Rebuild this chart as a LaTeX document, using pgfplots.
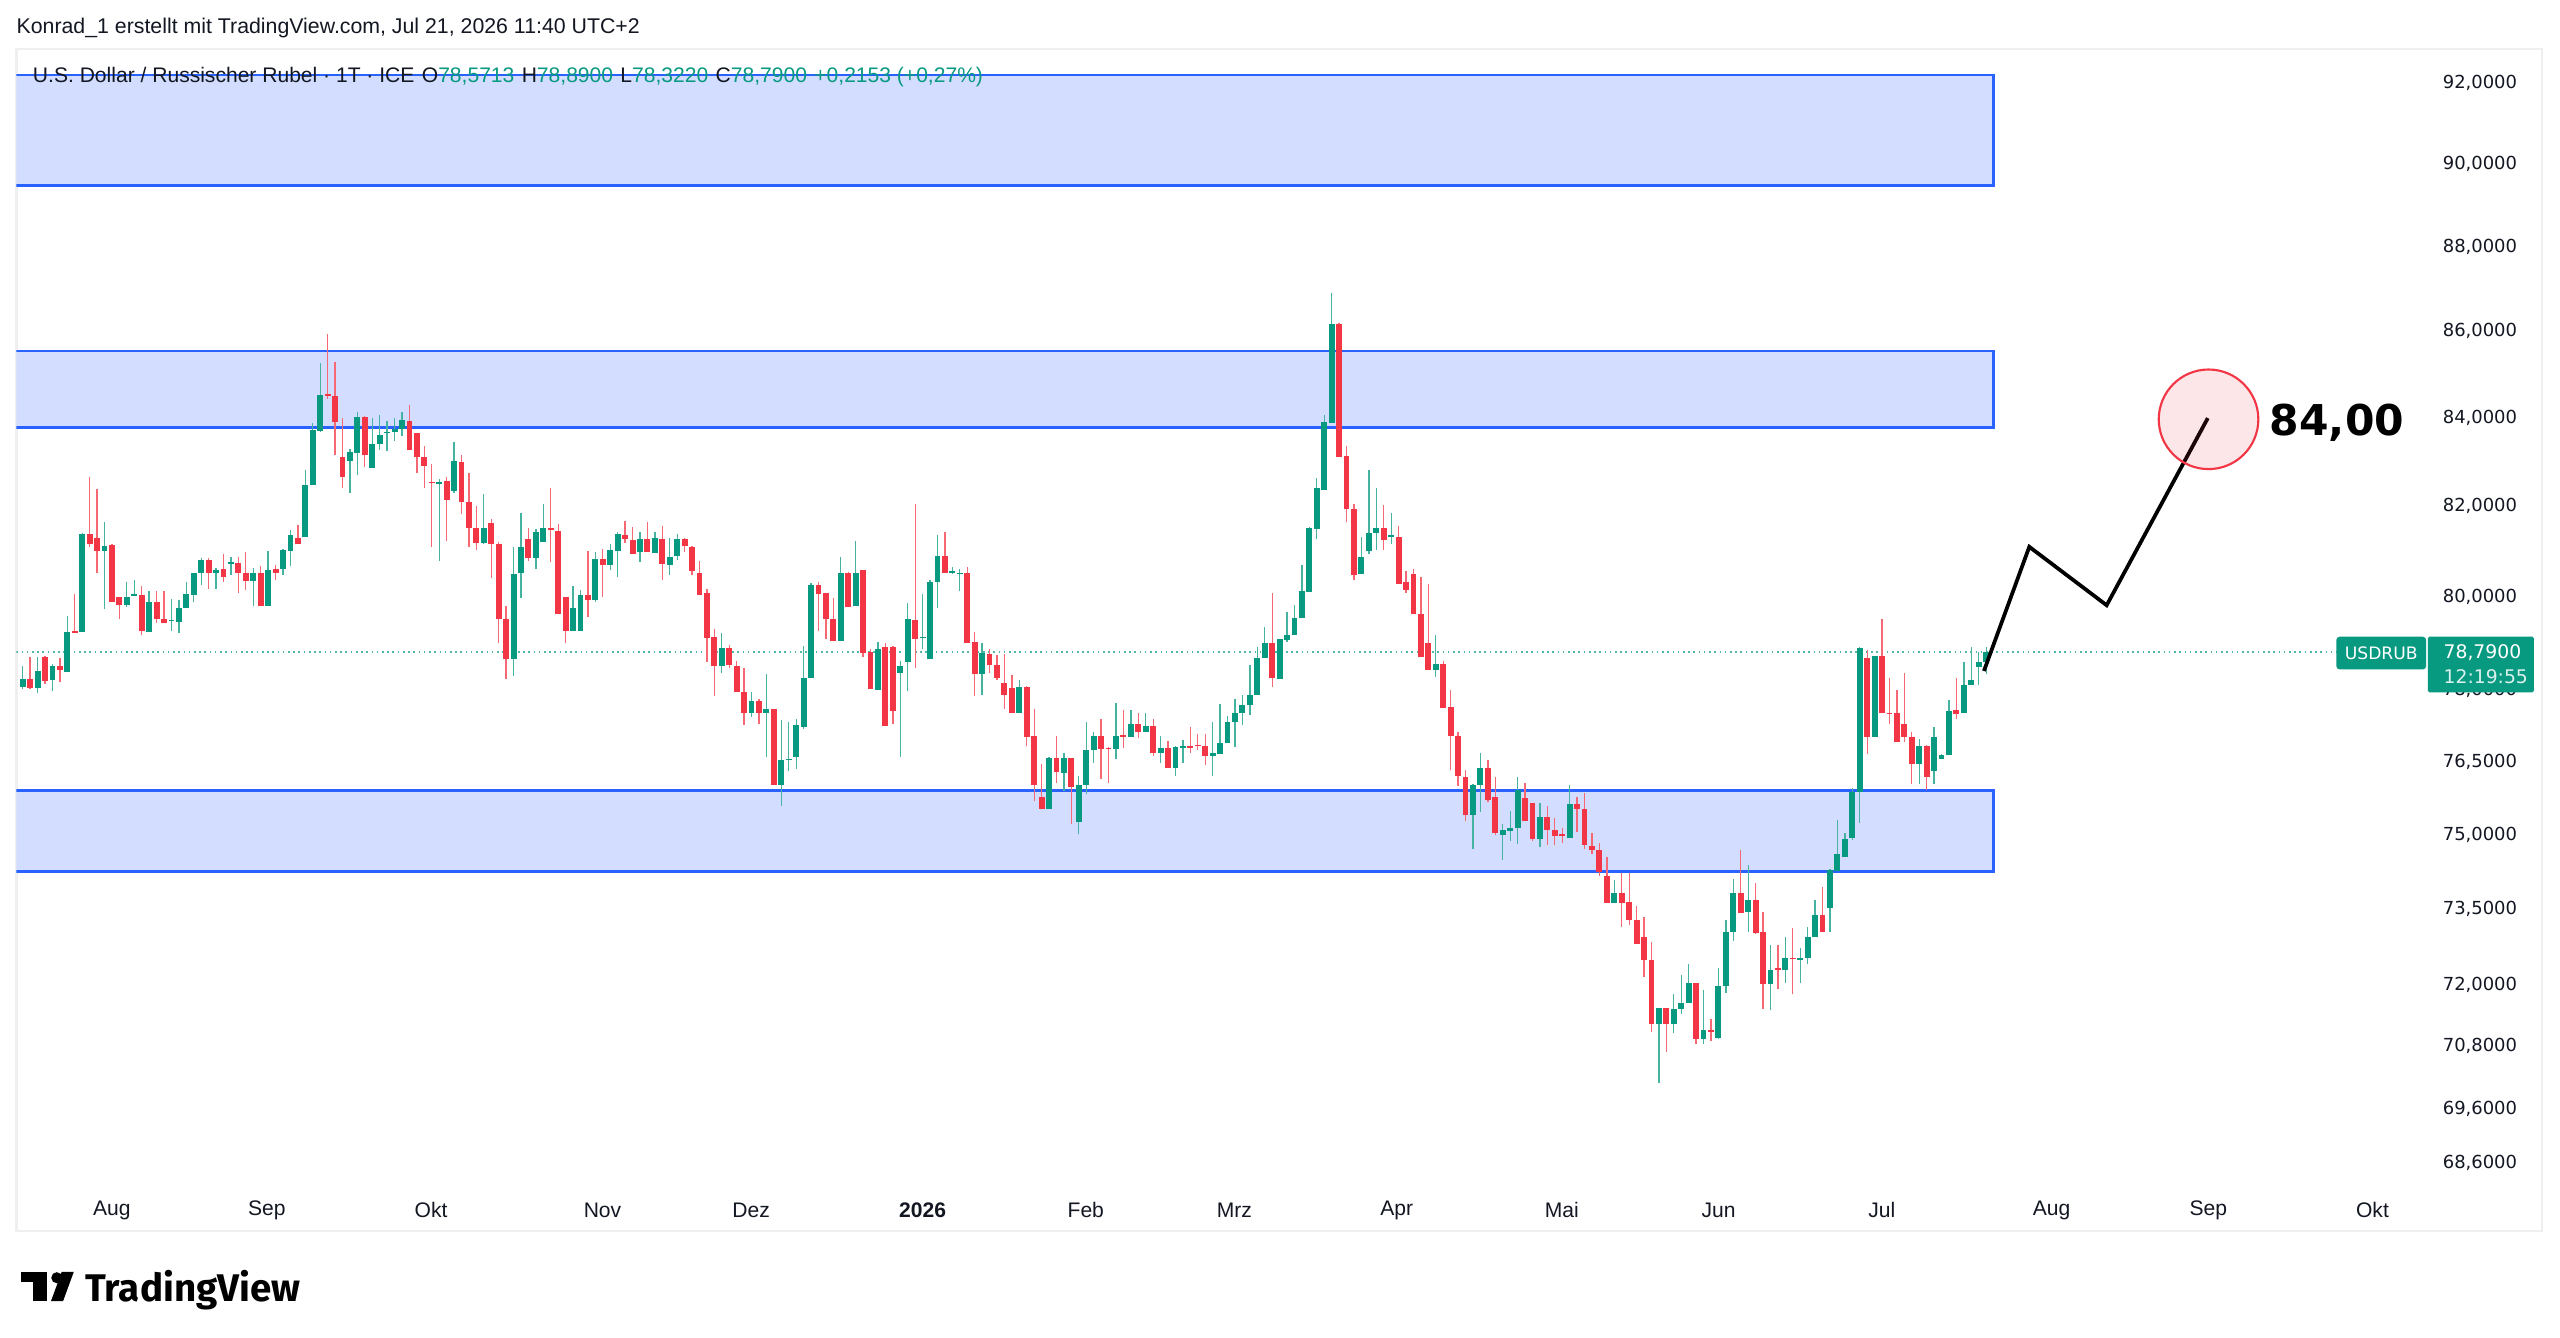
\documentclass[border=0pt]{standalone}
\usepackage{fontspec}
\setmainfont{Liberation Sans}
\newfontfamily\dejavu{DejaVu Sans}
\newfontfamily\fira{Fira Sans}
\usepackage{pgfplots}
\usepackage{pgfplotstable}
\pgfplotsset{compat=1.18}
\definecolor{tvgreen}{HTML}{089981}
\definecolor{tvred}{HTML}{F23645}
\definecolor{boxfill}{HTML}{D2DDFF}
\definecolor{boxline}{HTML}{2962FF}
\definecolor{txt}{HTML}{131722}
\definecolor{framec}{HTML}{EFEFEF}

\pgfplotstableread{
k o h l c
1 78.03 78.49 77.99 78.21
2 78.22 78.67 77.99 78.01
3 78.02 78.67 77.90 78.38
4 78.67 78.69 78.10 78.16
5 78.19 78.52 77.96 78.49
6 78.49 78.65 78.15 78.40
7 78.36 79.55 78.36 79.21
8 79.22 80.02 79.20 79.20
9 79.21 81.36 79.21 81.34
10 81.34 82.61 81.05 81.11
11 81.25 82.35 80.48 80.97
12 80.97 81.60 79.71 81.08
13 81.10 81.12 79.86 79.86
14 79.98 79.98 79.48 79.80
15 79.80 80.28 79.75 79.98
16 79.99 80.33 79.99 80.00
17 80.00 80.20 79.15 79.23
18 79.21 80.09 79.21 79.87
19 79.87 80.09 79.41 79.48
20 79.48 80.09 79.41 79.41
21 79.44 79.93 79.23 79.45
22 79.43 79.91 79.19 79.73
23 79.73 80.28 79.73 80.02
24 80.00 80.49 79.87 80.49
25 80.48 80.81 80.22 80.77
26 80.77 80.81 80.14 80.49
27 80.48 80.60 80.14 80.55
28 80.57 80.91 80.29 80.40
29 80.69 80.84 80.44 80.71
30 80.70 80.84 80.04 80.48
31 80.48 80.94 80.11 80.31
32 80.31 80.60 79.78 80.48
33 80.48 80.64 79.77 79.77
34 79.77 80.96 79.77 80.55
35 80.57 80.65 80.33 80.49
36 80.57 81.01 80.44 80.99
37 80.97 81.43 80.64 81.31
38 81.25 81.54 81.11 81.11
39 81.27 82.77 81.27 82.44
40 82.44 83.83 82.44 83.67
41 83.66 85.21 83.64 84.47
42 84.47 85.90 84.38 84.46
43 84.46 85.24 83.10 83.85
44 83.06 83.96 82.36 82.61
45 82.98 83.25 82.25 83.17
46 83.16 84.09 82.65 83.98
47 83.98 84.00 82.83 83.10
48 82.82 83.96 82.82 83.36
49 83.36 84.02 83.23 83.57
50 83.61 83.88 83.19 83.63
51 83.64 83.95 83.43 83.71
52 83.71 84.09 83.55 83.91
53 83.89 84.24 83.22 83.22
54 83.62 83.62 82.70 83.06
55 83.06 83.31 82.36 82.87
56 82.48 82.91 81.05 82.47
57 82.45 82.57 80.74 82.51
58 82.53 82.62 81.18 82.10
59 82.31 83.41 82.26 82.98
60 82.96 83.11 81.79 82.05
61 82.05 82.70 81.06 81.48
62 81.48 81.97 81.00 81.14
63 81.14 82.23 81.12 81.48
64 81.59 81.68 80.37 81.12
65 81.13 81.16 78.97 79.48
66 79.48 79.77 78.22 78.63
67 78.63 81.05 78.28 80.47
68 80.48 81.81 79.95 81.05
69 81.23 81.47 80.75 80.81
70 80.81 81.45 80.57 81.38
71 81.17 82.01 81.17 81.48
72 81.47 82.36 80.73 81.42
73 81.40 81.57 79.60 79.60
74 79.97 79.97 78.97 79.24
75 79.24 80.19 79.24 79.73
76 79.24 80.11 79.24 80.00
77 80.00 80.96 79.54 79.91
78 79.91 80.94 79.87 80.80
79 80.79 81.01 79.98 80.66
80 80.66 81.11 80.55 80.99
81 80.96 81.39 80.40 81.34
82 81.32 81.62 81.14 81.23
83 81.22 81.49 80.91 80.91
84 80.94 81.38 80.73 81.23
85 81.23 81.60 80.94 80.94
86 80.92 81.38 80.92 81.25
87 81.23 81.51 80.33 80.69
88 80.66 81.25 80.44 80.84
89 80.85 81.35 80.76 81.24
90 81.24 81.26 80.94 81.07
91 81.05 81.07 80.45 80.53
92 80.49 80.75 80.00 80.01
93 80.05 80.14 78.57 79.09
94 79.10 79.27 77.85 78.48
95 78.48 79.18 78.35 78.86
96 78.86 78.95 78.43 78.50
97 78.48 78.59 77.93 77.93
98 77.94 78.45 77.24 77.48
99 77.48 77.94 77.41 77.73
100 77.73 77.78 77.26 77.48
101 77.48 78.31 76.56 77.58
102 77.58 77.58 75.98 75.98
103 75.98 77.34 75.55 76.50
104 76.49 77.29 76.28 76.53
105 76.56 77.36 76.31 77.22
106 77.19 78.91 77.15 78.24
107 78.24 80.27 78.24 80.23
108 80.23 80.29 79.23 80.03
109 80.05 80.05 79.05 79.49
110 79.49 79.94 79.03 79.03
111 79.03 80.83 79.03 80.49
112 80.48 80.51 79.75 79.75
113 79.78 81.18 79.78 80.49
114 80.54 80.54 78.68 78.77
115 78.78 78.84 77.99 77.99
116 77.98 79.00 77.98 78.84
117 78.90 78.98 77.21 77.21
118 78.90 78.91 77.27 77.54
119 78.33 78.60 76.56 78.48
120 78.57 79.83 77.96 79.49
121 79.47 82.02 78.45 79.07
122 79.08 80.03 78.85 79.09
123 78.63 80.34 78.63 80.29
124 80.29 81.33 79.74 80.85
125 80.85 81.38 80.48 80.48
126 80.49 80.62 80.47 80.51
127 80.46 80.58 80.10 80.48
128 80.48 80.62 78.98 78.98
129 79.00 79.22 77.84 78.31
130 78.31 78.98 77.87 78.77
131 78.75 78.84 78.34 78.50
132 78.50 78.73 78.17 78.24
133 78.14 78.75 77.56 77.87
134 78.00 78.30 77.50 77.50
135 77.49 78.17 77.49 78.05
136 78.05 78.06 76.79 76.99
137 77.00 77.58 75.65 75.98
138 75.74 76.43 75.48 75.50
139 75.50 76.56 75.50 76.54
140 76.54 77.00 76.03 76.25
141 76.24 76.65 75.86 76.54
142 76.54 76.54 75.18 75.94
143 75.22 76.16 74.97 75.98
144 75.98 77.29 75.81 76.70
145 76.70 77.08 76.44 77.00
146 77.00 77.36 76.11 76.73
147 76.74 76.77 76.03 76.73
148 76.73 77.69 76.51 77.00
149 77.03 77.55 76.74 76.99
150 76.99 77.55 76.99 77.26
151 77.26 77.48 76.97 77.09
152 77.09 77.50 77.09 77.21
153 77.21 77.36 76.58 76.64
154 76.65 77.00 76.45 76.74
155 76.74 76.90 76.33 76.33
156 76.33 76.78 76.16 76.77
157 76.76 76.92 76.44 76.77
158 76.77 77.20 76.66 76.75
159 76.82 77.04 76.72 76.79
160 76.80 77.06 76.39 76.59
161 76.59 77.29 76.16 76.65
162 76.63 77.66 76.63 76.86
163 76.86 77.43 76.86 77.30
164 77.31 77.78 76.77 77.48
165 77.48 77.86 77.22 77.65
166 77.65 78.50 77.44 77.86
167 77.86 78.88 77.86 78.66
168 78.66 79.33 78.66 78.97
169 78.99 80.05 78.03 78.23
170 78.21 79.07 78.21 79.06
171 79.04 79.64 79.00 79.15
172 79.15 79.79 79.15 79.51
173 79.51 80.66 79.51 80.09
174 80.07 81.50 80.07 81.48
175 81.46 82.59 81.23 82.36
176 82.32 84.02 82.32 83.87
177 83.84 86.86 83.84 86.12
178 86.12 86.15 83.07 83.07
179 83.08 83.32 81.61 81.89
180 81.89 82.02 80.33 80.45
181 80.46 81.27 80.46 80.83
182 80.96 82.77 80.89 81.37
183 81.36 82.37 80.99 81.48
184 81.48 81.98 80.99 81.20
185 81.28 81.80 81.13 81.30
186 81.27 81.53 80.25 80.25
187 80.28 80.53 80.05 80.11
188 80.47 80.57 79.60 79.60
189 79.60 80.40 78.67 78.67
190 78.98 80.25 78.39 78.39
191 78.39 79.15 78.26 78.53
192 78.53 78.60 77.60 77.60
193 77.62 77.98 76.30 77.01
194 77.01 77.08 75.96 76.16
195 76.14 76.30 75.24 75.37
196 75.37 76.00 74.67 75.99
197 75.99 76.64 75.43 76.34
198 76.34 76.49 75.63 75.67
199 75.74 76.15 74.95 74.99
200 74.95 75.18 74.44 75.05
201 75.04 75.45 74.83 75.09
202 75.10 76.15 74.78 75.88
203 75.71 76.02 75.24 75.24
204 75.62 75.62 74.83 74.87
205 74.87 75.62 74.70 75.32
206 75.32 75.55 74.75 75.05
207 75.05 75.30 74.75 74.93
208 74.97 75.09 74.79 74.94
209 74.89 75.99 74.89 75.59
210 75.59 75.74 75.01 75.49
211 75.49 75.82 74.67 74.75
212 74.74 74.99 74.56 74.64
213 74.65 74.80 74.12 74.20
214 74.12 74.51 73.59 73.59
215 73.59 74.05 73.59 73.79
216 73.79 74.19 73.10 73.59
217 73.60 74.19 73.13 73.25
218 73.24 73.52 72.77 72.77
219 72.89 73.30 72.12 72.44
220 72.44 72.81 71.03 71.21
221 71.21 71.50 70.07 71.50
222 71.50 71.50 70.65 71.20
223 71.20 71.79 71.02 71.49
224 71.49 72.15 71.39 71.60
225 71.60 72.36 71.60 72.00
226 72.00 72.00 70.81 70.90
227 70.90 71.86 70.81 71.09
228 71.09 71.30 70.87 71.05
229 70.93 72.28 70.91 71.94
230 71.94 73.23 71.81 73.00
231 73.00 74.07 72.83 73.78
232 73.78 74.65 73.39 73.39
233 73.41 74.34 73.01 73.63
234 73.63 73.99 72.96 72.98
235 72.99 73.40 71.49 71.97
236 71.97 72.75 71.47 72.26
237 72.26 72.75 71.87 72.25
238 72.25 72.90 72.00 72.49
239 72.48 73.08 71.77 72.46
240 72.45 72.68 71.99 72.49
241 72.49 73.10 72.36 72.90
242 72.90 73.64 72.89 73.33
243 73.33 73.91 72.99 72.99
244 73.48 74.27 73.01 74.24
245 74.22 75.27 74.22 74.56
246 74.50 74.99 74.50 74.88
247 74.90 75.92 74.85 75.83
248 75.83 78.90 75.20 78.87
249 78.66 78.83 76.63 76.98
250 76.98 78.69 76.98 78.69
251 78.69 79.49 77.48 77.48
252 77.49 78.24 77.26 77.47
253 77.48 77.97 76.87 76.87
254 77.27 78.35 76.87 76.98
255 76.99 77.09 76.01 76.43
256 76.43 76.94 76.01 76.78
257 76.80 76.82 75.87 76.14
258 76.27 77.18 76.01 76.99
259 76.53 76.63 76.51 76.61
260 76.60 77.77 76.60 77.53
261 77.55 78.24 77.35 77.46
262 77.48 78.58 77.48 78.08
263 78.08 78.88 78.08 78.19
264 78.47 78.78 78.08 78.56
265 78.5713 78.89 78.322 78.79
}\candles

\begin{document}
\begin{tikzpicture}
\path[fill=white] (0pt,0pt) rectangle (1568pt,-819.5pt);
\draw[framec, line width=1.5pt] (10pt,-30pt) rectangle (1557pt,-754pt);
\begin{axis}[
  at={(10pt,-727pt)}, anchor=south west,
  width=1468pt, height=697pt, scale only axis,
  xmin=0.144, xmax=322.4,
  ymode=log, ymin=68.11, ymax=92.82,
  axis line style={draw=none},
  major tick length=0pt, minor tick length=0pt,
  xtick={12.99,33.84,55.91,78.96,98.94,121.99,143.94,163.92,185.76,207.94,229.01,250.97,273.80,294.87,316.94},
  xticklabels={Aug,Sep,Okt,Nov,Dez,\textbf{2026},Feb,Mrz,Apr,Mai,Jun,Jul,Aug,Sep,Okt},
  xticklabel style={font=\fontsize{12.9}{15}\selectfont, text=txt, anchor=center, yshift=-14.5pt},
  ytick={68.6,69.6,70.8,72,73.5,75,76.5,78,80,82,84,86,88,90,92},
  yticklabels={{68,6000},{69,6000},{70,8000},{72,0000},{73,5000},{75,0000},{76,5000},{78,0000},{80,0000},{82,0000},{84,0000},{86,0000},{88,0000},{90,0000},{92,0000}},
  yticklabel pos=right,
  yticklabel style={font=\dejavu\fontsize{11}{13}\selectfont, text=txt, anchor=west, xshift=14.7pt, yshift=-1pt},
]
% zones
\addplot[fill=boxfill, draw=boxline, line width=1.6pt] coordinates {(-5,92.16) (266,92.16) (266,89.43) (-5,89.43)} -- cycle;
\addplot[fill=boxfill, draw=boxline, line width=1.6pt] coordinates {(-5,85.50) (266,85.50) (266,83.74) (-5,83.74)} -- cycle;
\addplot[fill=boxfill, draw=boxline, line width=1.6pt] coordinates {(-5,75.88) (266,75.88) (266,74.21) (-5,74.21)} -- cycle;
% last price line
\addplot[tvgreen!70!white, line width=0.9pt, dash pattern=on 1pt off 2.2pt] coordinates {(0.144,78.79) (322.4,78.79)};
% wicks
\addplot[draw=none, mark=none, restrict expr to domain={\thisrow{c}-\thisrow{o}}{0:100},
  error bars/.cd, y dir=plus, y explicit, error mark=none,
  error bar style={draw=tvgreen!75!white, line width=0.8pt}]
  table[x=k, y=l, y error plus expr={\thisrow{h}-\thisrow{l}}] {\candles};
\addplot[draw=none, mark=none, restrict expr to domain={\thisrow{o}-\thisrow{c}}{0.0001:100},
  error bars/.cd, y dir=plus, y explicit, error mark=none,
  error bar style={draw=tvred!75!white, line width=0.8pt}]
  table[x=k, y=l, y error plus expr={\thisrow{h}-\thisrow{l}}] {\candles};
% bodies
\addplot[draw=none, mark=none, restrict expr to domain={\thisrow{c}-\thisrow{o}}{0:100},
  error bars/.cd, y dir=plus, y explicit, error mark=none,
  error bar style={draw=tvgreen, line width=3.6pt}]
  table[x=k, y=o, y error plus expr={max(\thisrow{c}-\thisrow{o},0.03)}] {\candles};
\addplot[draw=none, mark=none, restrict expr to domain={\thisrow{o}-\thisrow{c}}{0.0001:100},
  error bars/.cd, y dir=plus, y explicit, error mark=none,
  error bar style={draw=tvred, line width=3.6pt}]
  table[x=k, y=c, y error plus expr={max(\thisrow{o}-\thisrow{c},0.03)}] {\candles};
% projection
\addplot[black, line width=2.3pt, line join=miter] coordinates {(264.7,78.37) (270.8,81.06) (281.2,79.79) (294.8,83.95)};
\addplot[only marks, mark=*, mark size=30.5pt, mark options={draw=tvred, fill=tvred, fill opacity=0.12, draw opacity=1, line width=1.3pt}] coordinates {(294.9,83.92)};
\node[anchor=west, font=\dejavu\bfseries\fontsize{26}{30}\selectfont, text=black, inner sep=0pt] at (axis cs:303.1,83.85) {84,00};
\end{axis}
% header
\node[anchor=base west, inner sep=0pt, font=\fontsize{13.05}{15}\selectfont, text=txt] at (10pt,-20.5pt) {Konrad\_1 erstellt mit TradingView.com, Jul 21, 2026 11:40 UTC+2};
\node[anchor=base west, inner sep=0pt, font=\fontsize{12.9}{15}\selectfont, text=txt] at (20pt,-50.6pt) {U.S. Dollar / Russischer Rubel · 1T · ICE\hspace{0.35em}O\textcolor{tvgreen}{78,5713}\hspace{0.35em}H\textcolor{tvgreen}{78,8900}\hspace{0.35em}L\textcolor{tvgreen}{78,3220}\hspace{0.35em}C\textcolor{tvgreen}{78,7900}\hspace{0.35em}\textcolor{tvgreen}{+0,2153 (+0,27\%)}};
% price labels
\fill[tvgreen, rounded corners=2pt] (1431pt,-390pt) rectangle (1486pt,-410pt);
\node[inner sep=0pt, text=white, font=\dejavu\fontsize{10.5}{12}\selectfont] at (1458.5pt,-400pt) {USDRUB};
\fill[tvgreen, rounded corners=1pt] (1487pt,-390pt) rectangle (1552pt,-424pt);
\node[anchor=west, inner sep=0pt, text=white, font=\dejavu\fontsize{11.5}{12}\selectfont] at (1496.5pt,-399.5pt) {78,7900};
\node[anchor=west, inner sep=0pt, text=white!85!tvgreen, font=\dejavu\fontsize{11.5}{12}\selectfont] at (1496.5pt,-414.5pt) {12:19:55};
% logo
\fill[black] (13pt,-779pt) rectangle (28.7pt,-785.5pt);
\fill[black] (20.5pt,-779pt) rectangle (28.7pt,-797pt);
\fill[black] (34.8pt,-782.6pt) circle (3.4pt);
\fill[black] (31.2pt,-797pt) -- (38.6pt,-797pt) -- (45.2pt,-779pt) -- (37.8pt,-779pt) -- cycle;
\node[anchor=base west, inner sep=0pt, font=\fira\bfseries\fontsize{23.6}{26}\selectfont, text=black] at (52pt,-797pt) {TradingView};
\end{tikzpicture}
\end{document}
